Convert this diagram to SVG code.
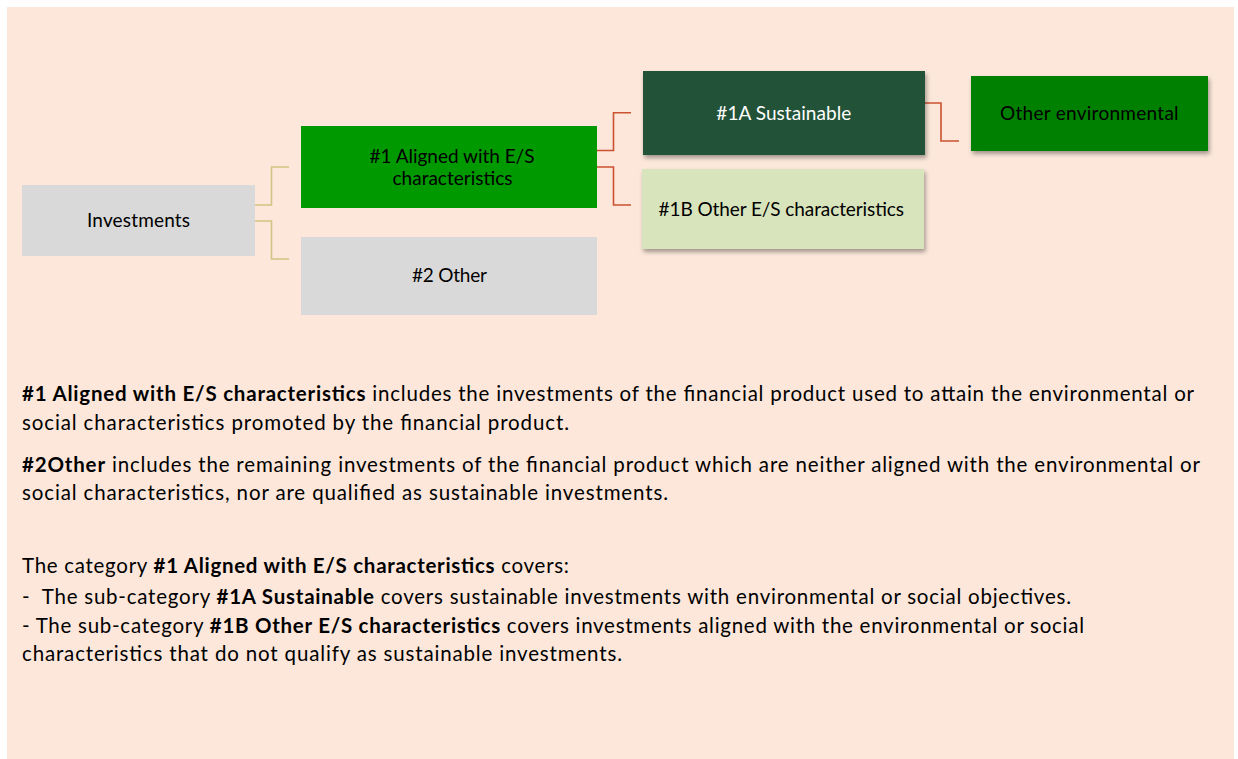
<svg xmlns="http://www.w3.org/2000/svg" width="1238" height="759" viewBox="0 0 1238 759">
<style>
.t{font-family:Lato,"Liberation Sans",sans-serif;fill:#000}
.box{font-size:19px}
.p{font-size:20.5px}
.b{font-weight:bold}
.tan{fill:none;stroke:#D2C482;stroke-width:1.6}
.red{fill:none;stroke:#CB5230;stroke-width:1.6}
</style>
<defs>
<filter id="sh" x="-10%" y="-10%" width="125%" height="140%">
<feDropShadow dx="1.5" dy="3" stdDeviation="2" flood-color="#000" flood-opacity="0.35"/>
</filter>
</defs>
<rect x="0" y="0" width="1238" height="759" fill="#fff"/>
<rect x="7" y="7" width="1227" height="752" fill="#FCE7DA"/>

<g id="connectors">
<path class="tan" d="M255 205 H271.5 V167 H289"/>
<path class="tan" d="M255 221 H271.5 V259 H289"/>
<path class="red" d="M597 150.5 H613.5 V112.7 H631"/>
<path class="red" d="M597 167 H613.5 V205 H631"/>
<path class="red" d="M925 103 H941 V141 H959"/>
</g>

<g id="investments">
<rect x="22" y="185" width="233" height="71" fill="#D9D9D9"/>
<text class="t box" x="138.5" y="226.5" text-anchor="middle" textLength="103">Investments</text>
</g>

<g id="aligned">
<rect x="301" y="126" width="296" height="82" fill="#009A00"/>
<text class="t box" x="452" y="162.5" text-anchor="middle" textLength="165">#1 Aligned with E/S</text>
<text class="t box" x="452.5" y="185" text-anchor="middle" textLength="120">characteristics</text>
</g>

<g id="other2">
<rect x="301" y="237" width="296" height="78" fill="#D9D9D9"/>
<text class="t box" x="449.5" y="281.5" text-anchor="middle" textLength="75">#2 Other</text>
</g>

<g id="sustainable">
<rect x="643" y="71" width="282" height="84" fill="#245339" filter="url(#sh)"/>
<text class="t box" x="783.8" y="120" text-anchor="middle" textLength="135" style="fill:#fff">#1A Sustainable</text>
</g>

<g id="other-es">
<rect x="642" y="169" width="282" height="80" fill="#D8E4BC" filter="url(#sh)"/>
<text class="t box" x="781.3" y="215.5" text-anchor="middle" textLength="245.5">#1B Other E/S characteristics</text>
</g>

<g id="other-env">
<rect x="971" y="76" width="237" height="75" fill="#008000" filter="url(#sh)"/>
<text class="t box" x="1089.3" y="120" text-anchor="middle" textLength="178.6">Other environmental</text>
</g>

<g id="notes">
<text class="t p" x="22" y="401" textLength="1172"><tspan class="b">#1 Aligned with E/S characteristics</tspan> includes the investments of the financial product used to attain the environmental or</text>
<text class="t p" x="22" y="430" textLength="547">social characteristics promoted by the financial product.</text>
<text class="t p" x="22" y="472" textLength="1178"><tspan class="b">#2Other</tspan> includes the remaining investments of the financial product which are neither aligned with the environmental or</text>
<text class="t p" x="22" y="500" textLength="646">social characteristics, nor are qualified as sustainable investments.</text>
<text class="t p" x="22" y="573" textLength="547">The category <tspan class="b">#1 Aligned with E/S characteristics</tspan> covers:</text>
<text class="t p" x="22" y="604" textLength="1049">-&#160; The sub-category <tspan class="b">#1A Sustainable</tspan> covers sustainable investments with environmental or social objectives.</text>
<text class="t p" x="22" y="633" textLength="1062">- The sub-category <tspan class="b">#1B Other E/S characteristics</tspan> covers investments aligned with the environmental or social</text>
<text class="t p" x="22" y="661" textLength="600">characteristics that do not qualify as sustainable investments.</text>
</g>
</svg>
